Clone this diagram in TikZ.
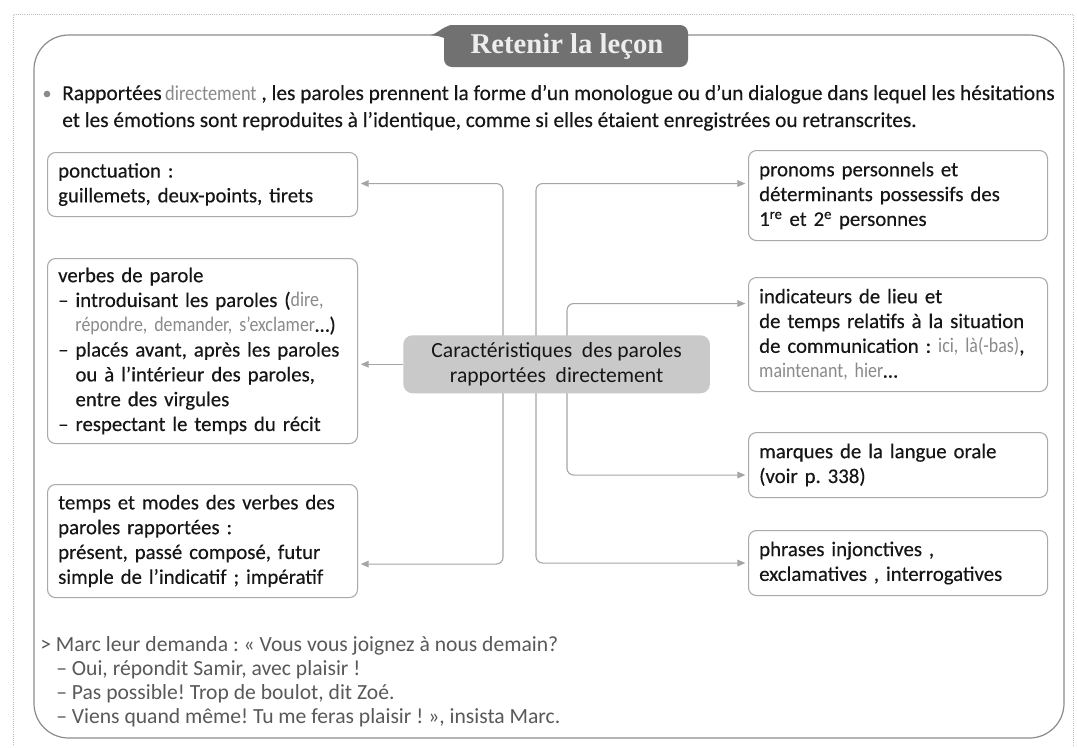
\documentclass[tikz,border=0pt]{standalone}
\usepackage{fontspec}
\setmainfont{Carlito}
\newfontfamily\boxfont{Carlito}[FakeBold=0.35]
\newfontfamily\condfont{Carlito}[FakeStretch=0.86]
\newfontfamily\titlefont{Liberation Serif}
\usetikzlibrary{arrows.meta,calc,backgrounds}
\definecolor{pagegray}{HTML}{BDBDBD}
\definecolor{framegray}{HTML}{8C8C8C}
\definecolor{boxgray}{HTML}{A9A9A9}
\definecolor{conngray}{HTML}{A5A5A5}
\definecolor{tabfill}{HTML}{717171}
\definecolor{centerfill}{HTML}{C9C9C9}
\definecolor{softtext}{HTML}{8A8A8A}
\definecolor{exampletext}{HTML}{595959}
\definecolor{maintext}{HTML}{161616}
\newcommand{\gr}[1]{{\condfont\textcolor{softtext}{#1}}}
\frenchspacing
\tikzset{
  box/.style={draw=boxgray, line width=0.8pt, rounded corners=6pt, fill=white,
    anchor=north west, align=left, inner xsep=8pt, inner ysep=2pt, text=maintext},
  leftbox/.style={box, text width=216.5pt},
  rightbox/.style={box, text width=208.25pt},
  centerbox/.style={fill=centerfill, rounded corners=7pt, align=center,
    minimum width=230pt, minimum height=43.5pt, anchor=north west, text=maintext,
    font=\fontsize{16.2}{19}\selectfont\rmfamily},
  titletext/.style={text=white!93!black, inner sep=0pt,
    font=\fontsize{21.5}{24}\selectfont\titlefont\bfseries},
  conn/.style={draw=conngray, line width=0.8pt, rounded corners=5pt},
  arr/.style={conn, -{Triangle[length=6pt,width=5pt]}, shorten >=2pt},
  textline/.style={anchor=base west, inner sep=0pt, text=maintext,
    font=\fontsize{16}{19}\selectfont\boxfont},
  exline/.style={anchor=base west, inner sep=0pt, text=exampletext,
    font=\fontsize{16.2}{19}\selectfont}
}
\begin{document}
\begin{tikzpicture}[x=0.75pt, y=-0.75pt, font=\fontsize{15.6}{18.6}\selectfont\boxfont]
\useasboundingbox (0,0) rectangle (1077,747);
\begin{scope}[on background layer]
  \fill[white] (0,0) rectangle (1077,747);
\end{scope}
% outer page border
\draw[pagegray, densely dotted, line width=0.6pt] (13,745) -- (13,14) -- (1073,14) -- (1073,745);
% main frame
\draw[framegray, line width=0.9pt, rounded corners=26pt] (34,35) rectangle (1064,738);
% title tab
\fill[tabfill, rounded corners=6pt] (444,25) rectangle (688,67);
\fill[tabfill] (430,35) .. controls (438,34) and (441,27) .. (452,25)
  -- (452,46) .. controls (450,39) and (442,36) .. cycle;
\node[titletext] (title) at (567,47) {Retenir la leçon};
% bullet paragraph
\node[circle, fill=softtext, inner sep=0pt, minimum size=5pt] (bul) at (47,94) {};
\node[textline] (l1) at (62,100) {Rapportées\,\gr{directement} , les paroles prennent la forme d’un monologue ou d’un dialogue dans lequel les hésitations};
\node[textline] (l2) at (62,127) {et les émotions sont reproduites à l’identique, comme si elles étaient enregistrées ou retranscrites.};
% left boxes
\node[leftbox, minimum height=48pt] (b1) at (47,152) {ponctuation :\\ guillemets, deux-points, tirets};
\node[leftbox, minimum height=138.75pt] (b2) at (47,258) {verbes de parole\\
– introduisant les paroles (\gr{dire,}\\
\hphantom{– }\gr{répondre, demander, s’exclamer}…)\\
– placés avant, après les paroles\\
\hphantom{– }ou à l’intérieur des paroles,\\
\hphantom{– }entre des virgules\\
– respectant le temps du récit};
\node[leftbox, minimum height=84.75pt] (b3) at (47,484) {temps et modes des verbes des\\ paroles rapportées :\\ présent, passé composé, futur\\ simple de l’indicatif ; impératif};
% right boxes
\node[rightbox, minimum height=67.5pt] (r1) at (748,150) {pronoms personnels et\\ déterminants possessifs des\\ 1\textsuperscript{re} et 2\textsuperscript{e} personnes};
\node[rightbox, minimum height=85.5pt] (r2) at (748,277) {indicateurs de lieu et\\ de temps relatifs à la situation\\ de communication : \gr{ici, là(-bas)},\\ \gr{maintenant, hier}…};
\node[rightbox, minimum height=48.75pt] (r3) at (748,432) {marques de la langue orale\\ (voir p. 338)};
\node[rightbox, minimum height=48.75pt] (r4) at (748,530) {phrases injonctives ,\\ exclamatives , interrogatives};
% center box
\node[centerbox] (c) at (403,335) {Caractéristiques \ des paroles\\ rapportées \ directement};
% trunk coordinates
\coordinate (tl) at (503,364);
\coordinate (tr) at (536,364);
\coordinate (ti) at (567,364);
\begin{scope}[on background layer]
  \draw[arr] (tl) |- ($(b1.east)+(0,-1)$);
  \draw[arr] (tl) |- ($(b3.east)+(0,23)$);
  \draw[arr] (tr) |- ($(r1.west)+(0,-12)$);
  \draw[arr] (tr) |- ($(r4.west)+(0,0)$);
  \draw[arr] (ti) |- ($(r2.west)+(0,-31)$);
  \draw[arr] (ti) |- ($(r3.west)+(0,10)$);
\end{scope}
\draw[arr] (c.west) -- (c.west -| b2.east);
% example
\node[exline] (e1) at (40,651) {> Marc leur demanda : « Vous vous joignez à nous demain?};
\node[exline] (e2) at (56,675) {– Oui, répondit Samir, avec plaisir !};
\node[exline] (e3) at (56,699) {– Pas possible! Trop de boulot, dit Zoé.};
\node[exline] (e4) at (56,723) {– Viens quand même! Tu me feras plaisir ! », insista Marc.};
\end{tikzpicture}
\end{document}
